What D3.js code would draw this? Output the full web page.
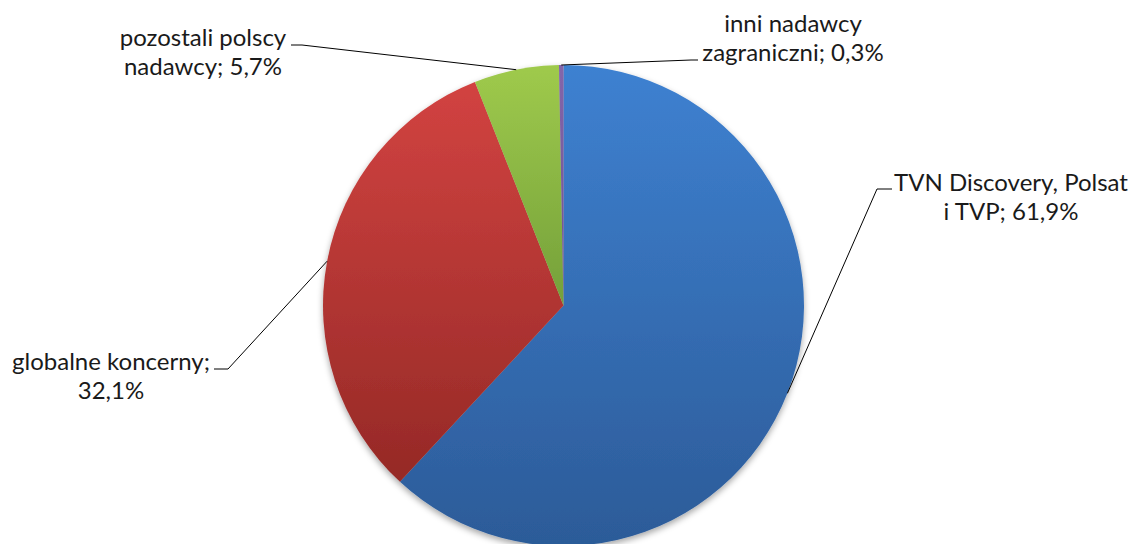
<!DOCTYPE html>
<html>
<head>
<meta charset="utf-8">
<script src="https://cdn.jsdelivr.net/npm/d3@7"></script>
<style>
  html, body { margin: 0; padding: 0; background: #fff; }
  svg { display: block; }
  text { font-family: Lato, "Open Sans", sans-serif; font-size: 24px; fill: #1a1a1a; }
</style>
</head>
<body>
<svg id="chart" width="1134" height="544"></svg>
<script>
const categories = ["TVN Discovery, Polsat i TVP", "globalne koncerny", "pozostali polscy nadawcy", "inni nadawcy zagraniczni"];
const values = [61.9, 32.1, 5.7, 0.3];
const labelLines = [
  ["TVN Discovery, Polsat", "i TVP; 61,9%"],
  ["globalne koncerny;", "32,1%"],
  ["pozostali polscy", "nadawcy; 5,7%"],
  ["inni nadawcy", "zagraniczni; 0,3%"]
];
const colorsTop = ["#3e81d1", "#d24341", "#9fca4c", "#8466aa"];
const colorsBottom = ["#2c5b98", "#952926", "#74a03a", "#6c4f92"];

const W = 1134, H = 544;
const cx = 563.5, cy = 305.5, R = 240.5;
const svg = d3.select("#chart");
const defs = svg.append("defs");

colorsTop.forEach((c, i) => {
  const g = defs.append("linearGradient").attr("id", "grad" + i)
    .attr("x1", 0).attr("y1", 0).attr("x2", 0).attr("y2", 1);
  g.append("stop").attr("offset", "0%").attr("stop-color", c);
  g.append("stop").attr("offset", "100%").attr("stop-color", colorsBottom[i]);
});

const filt = defs.append("filter").attr("id", "shadow")
  .attr("x", "-10%").attr("y", "-10%").attr("width", "120%").attr("height", "120%");
filt.append("feDropShadow").attr("dx", 0).attr("dy", 3).attr("stdDeviation", 3)
  .attr("flood-color", "#000").attr("flood-opacity", 0.35);

const pie = d3.pie().sort(null).value(d => d);
const arcs = pie(values);
const arc = d3.arc().innerRadius(0).outerRadius(R);

const g = svg.append("g").attr("transform", `translate(${cx},${cy})`);
g.append("g").attr("filter", "url(#shadow)")
  .selectAll("path").data(arcs).join("path")
  .attr("d", arc)
  .attr("fill", (d, i) => `url(#grad${i})`);

// label anchors (text centre x, first-line baseline y) and leader elbow points
const labelPos = [
  { x: 1011, y: 191, elbow: [877, 189], end: [892, 189] },
  { x: 111, y: 370, elbow: [228, 369], end: [214, 369] },
  { x: 203, y: 46, elbow: [302, 45], end: [291, 45] },
  { x: 793, y: 32, elbow: [691, 60], end: [698, 60] }
];

const outer = d3.arc().innerRadius(R).outerRadius(R);
arcs.forEach((a, i) => {
  const p = outer.centroid(a);
  const pt = [cx + p[0], cy + p[1]];
  const L = labelPos[i];
  svg.append("polyline")
    .attr("points", [pt, L.elbow, L.end].map(q => q.join(",")).join(" "))
    .attr("fill", "none").attr("stroke", "#000").attr("stroke-width", 1);
  const t = svg.append("text").attr("text-anchor", "middle");
  labelLines[i].forEach((ln, j) => {
    t.append("tspan").attr("x", L.x).attr("y", L.y + j * 29).text(ln);
  });
});
</script>
</body>
</html>
